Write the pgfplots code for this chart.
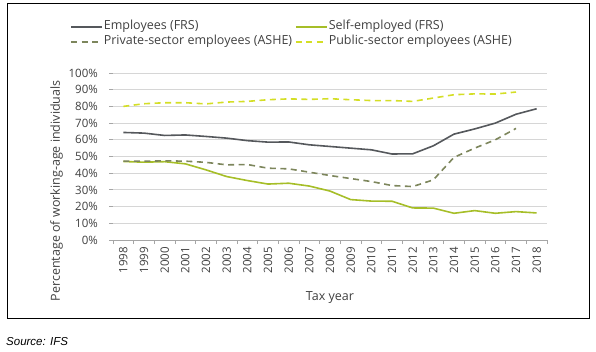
\documentclass[border=0pt]{standalone}
\usepackage{fontspec}
\setmainfont{Open Sans}
\newfontfamily\arialfont{Liberation Sans}
\usepackage{pgfplots}
\pgfplotsset{compat=1.18}
\definecolor{empcol}{RGB}{85,88,92}
\definecolor{selfcol}{RGB}{166,190,40}
\definecolor{privcol}{RGB}{125,134,92}
\definecolor{pubcol}{RGB}{212,222,38}
\definecolor{gridcol}{RGB}{214,214,214}
\definecolor{txtcol}{RGB}{64,64,64}
\begin{document}
\begin{tikzpicture}
\useasboundingbox (0,0) rectangle (596bp,352bp);
\draw[line width=1bp, black] (7bp,33bp) rectangle (589bp,348.5bp);
\node[anchor=west, inner sep=0pt, font=\arialfont\itshape\fontsize{11.5bp}{13bp}\selectfont, text=black] at (6bp,10bp) {Source: IFS};
\begin{axis}[
  at={(113bp,112bp)}, anchor=south west,
  scale only axis, width=434bp, height=167bp,
  xmin=-0.5, xmax=20.5, ymin=0, ymax=100,
  separate axis lines,
  axis x line*=bottom, axis y line*=left,
  x axis line style={color=gray!70, line width=0.8bp},
  y axis line style={draw=none},
  xtick={0,...,20},
  xticklabels={1998,1999,2000,2001,2002,2003,2004,2005,2006,2007,2008,2009,2010,2011,2012,2013,2014,2015,2016,2017,2018},
  major x tick style={draw=none},
  minor xtick={-0.5,0.5,...,20.5},
  minor tick length=4bp,
  minor x tick style={color=gray!70, line width=0.8bp},
  tick align=outside,
  ytick={0,10,...,100},
  major tick length=4bp,
  y tick style={color=gray!70, line width=0.8bp},
  ymajorgrids,
  grid style={color=gridcol, line width=0.8bp},
  /pgf/number format/assume math mode=true,
  yticklabel={\pgfmathprintnumber{\tick}\%},
  ticklabel style={font=\fontsize{11.5bp}{13bp}\selectfont, text=txtcol},
  xticklabel style={rotate=90, anchor=east, inner sep=0pt, xshift=-3bp},
  yticklabel style={anchor=east, inner sep=0pt, xshift=-11bp},
  xlabel={Tax year},
  ylabel={Percentage of working-age individuals},
  label style={font=\fontsize{12.5bp}{14bp}\selectfont, text=txtcol},
  xlabel style={at={(axis description cs:0.5,-0.347)}, anchor=center},
  ylabel style={at={(axis description cs:-0.130,0.295)}, anchor=center},
  legend columns=2,
  legend style={at={(axis description cs:-0.099,1.311)}, anchor=north west,
    draw=none, fill=none, inner sep=0pt, row sep=3bp,
    font=\fontsize{12.5bp}{14bp}\selectfont,
    nodes={inner sep=1bp, text depth=0.25em, text height=0.75em, text=txtcol},
    /tikz/every even column/.append style={column sep=2bp}},
  legend cell align=left,
  legend image code/.code={\draw[#1] (0bp,0bp) -- (31bp,0bp);},
]
\addplot[empcol, line width=1.6bp] coordinates {
(0,64.4) (1,64) (2,62.6) (3,62.9) (4,62) (5,61) (6,59.5) (7,58.6) (8,58.7) (9,57) (10,56) (11,55) (12,54) (13,51.5) (14,51.6) (15,56.4) (16,63.4) (17,66.5) (18,70) (19,75.3) (20,78.6)};
\addlegendentry{Employees (FRS)}
\addplot[selfcol, line width=1.6bp] coordinates {
(0,47) (1,46.6) (2,46.9) (3,45.6) (4,42) (5,38) (6,35.6) (7,33.5) (8,34) (9,32.3) (10,29.3) (11,24.2) (12,23.3) (13,23.2) (14,19.2) (15,19.1) (16,16) (17,17.6) (18,16) (19,17) (20,16.2)};
\addlegendentry{Self-employed (FRS)}
\addplot[privcol, line width=1.6bp, dash pattern=on 6bp off 4.5bp] coordinates {
(0,47.2) (1,47.2) (2,47.4) (3,47.2) (4,46.5) (5,45) (6,45.2) (7,43) (8,42.6) (9,40.6) (10,38.6) (11,36.8) (12,35) (13,32.6) (14,32) (15,36) (16,49.5) (17,55) (18,60) (19,66.8)};
\addlegendentry{Private-sector employees (ASHE)}
\addplot[pubcol, line width=1.6bp, dash pattern=on 6bp off 4.5bp] coordinates {
(0,80) (1,81.6) (2,82.2) (3,82.2) (4,81.5) (5,82.6) (6,83) (7,84) (8,84.5) (9,84.2) (10,84.6) (11,84) (12,83.5) (13,83.5) (14,83) (15,85) (16,87) (17,87.5) (18,87.4) (19,88.6)};
\addlegendentry{Public-sector employees (ASHE)}
\end{axis}
\end{tikzpicture}
\end{document}
